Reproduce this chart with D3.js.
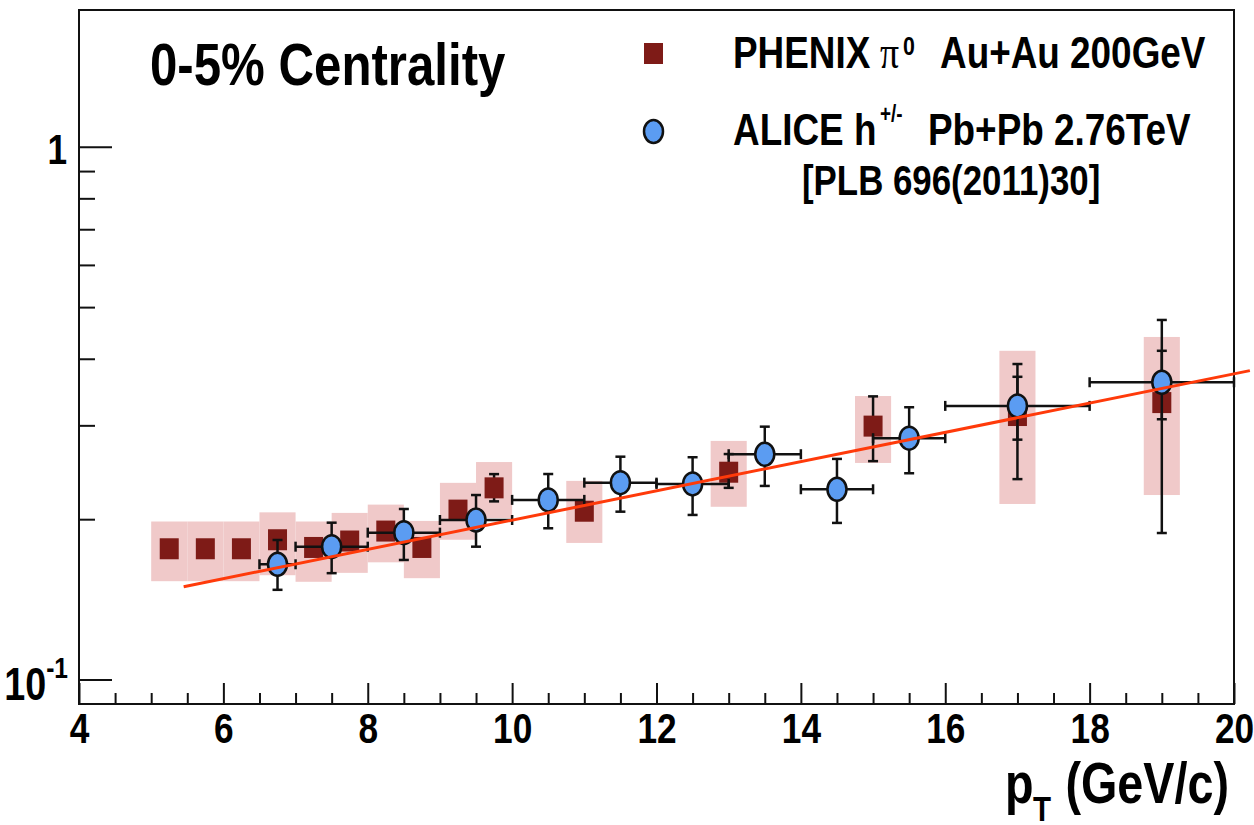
<!DOCTYPE html>
<html>
<head>
<meta charset="utf-8">
<script src="https://cdn.jsdelivr.net/npm/d3@7"></script>
<style>
body { margin:0; background:#fff; }
text { font-family:"Liberation Sans",Arial,sans-serif; font-weight:bold; fill:#000; white-space:pre; }
</style>
</head>
<body>
<div id="chart"></div>
<script>
// PHENIX pi0 Au+Au 200 GeV, 0-5%
var phenixPt = [5.25, 5.75, 6.25, 6.75, 7.25, 7.75, 8.25, 8.75, 9.25, 9.75, 11, 13, 15, 17, 19]
var phenixRaa = [0.176, 0.176, 0.176, 0.183, 0.177, 0.182, 0.190, 0.177, 0.208, 0.229, 0.207, 0.245, 0.299, 0.313, 0.331]
var phenixStatHi = [0.180, 0.180, 0.180, 0.187, 0.181, 0.186, 0.194, 0.181, 0.213, 0.243, 0.212, 0.265, 0.340, 0.370, 0.414]
var phenixStatLo = [0.172, 0.172, 0.172, 0.179, 0.173, 0.178, 0.186, 0.173, 0.203, 0.216, 0.202, 0.229, 0.257, 0.282, 0.308]
var phenixSysHi = [0.198, 0.198, 0.198, 0.206, 0.198, 0.2055, 0.213, 0.1985, 0.234, 0.256, 0.236, 0.2805, 0.3405, 0.414, 0.4395]
var phenixSysLo = [0.153, 0.153, 0.153, 0.157, 0.1526, 0.1586, 0.166, 0.155, 0.183, 0.201, 0.1805, 0.211, 0.255, 0.2136, 0.222]
var sysHalfWidth = 0.25

// ALICE h+/- Pb+Pb 2.76 TeV
var alicePt = [6.75, 7.5, 8.5, 9.5, 10.5, 11.5, 12.5, 13.5, 14.5, 15.5, 17, 19]
var alicePtLo = [6.5, 7, 8, 9, 10, 11, 12, 13, 14, 15, 16, 18]
var alicePtHi = [7, 8, 9, 10, 11, 12, 13, 14, 15, 16, 18, 20]
var aliceRaa = [0.1646, 0.1776, 0.1887, 0.1993, 0.2174, 0.2342, 0.2329, 0.2648, 0.2276, 0.2838, 0.3263, 0.3614]
var aliceHi = [0.1828, 0.197, 0.209, 0.222, 0.2431, 0.262, 0.2614, 0.2983, 0.2595, 0.3244, 0.391, 0.473]
var aliceLo = [0.1474, 0.1584, 0.1677, 0.1776, 0.1923, 0.2066, 0.2037, 0.2309, 0.1968, 0.2439, 0.2378, 0.1884]

// fit line end points
var fitPt = [5.45, 20.22]
var fitRaa = [0.1494, 0.380]

// axis ticks
var xMajor = [4, 6, 8, 10, 12, 14, 16, 18, 20]
var xMinor = d3.range(4.5, 20, 0.5).filter(function(d){ return d % 2 != 0 })
var yMajor = [0.1, 1]
var yMinor = [0.2, 0.3, 0.4, 0.5, 0.6, 0.7, 0.8, 0.9]

var width = 1254
var height = 825
var frameL = 79, frameR = 1234, frameT = 10, frameB = 704
var narrow = 0.82   // squeeze Liberation Sans Bold to look like Helvetica Narrow

var svg = d3.select("#chart").append("svg")
    .attr("width", width)
    .attr("height", height)

var x = d3.scaleLinear().domain([4, 20]).range([frameL, frameR])
var y = d3.scaleLog().domain([0.09, 1.805]).range([frameB, frameT])

function label(px, py, size, anchor) {
    return svg.append("text")
        .attr("transform", "translate(" + px + "," + py + ") scale(" + narrow + ",1)")
        .attr("text-anchor", anchor || "start")
        .style("font-size", size + "px")
}

// systematic boxes
svg.append("g").selectAll("rect")
    .data(phenixPt)
    .enter().append("rect")
    .attr("x", function(d){ return x(d - sysHalfWidth) })
    .attr("width", function(d){ return x(d + sysHalfWidth) - x(d - sysHalfWidth) })
    .attr("y", function(d, i){ return y(phenixSysHi[i]) })
    .attr("height", function(d, i){ return y(phenixSysLo[i]) - y(phenixSysHi[i]) })
    .style("fill", "#f0c9c9")

// frame
svg.append("rect")
    .attr("x", frameL).attr("y", frameT)
    .attr("width", frameR - frameL).attr("height", frameB - frameT)
    .attr("fill", "none").attr("stroke", "#111").attr("stroke-width", 2)

// x axis ticks
var xAxis = svg.append("g").attr("transform", "translate(0," + frameB + ")")
xAxis.call(d3.axisBottom(x).tickValues(xMajor).tickSize(-21).tickFormat(d3.format("d")))
xAxis.append("g").call(d3.axisBottom(x).tickValues(xMinor).tickSize(-11).tickFormat(""))
xAxis.selectAll(".domain").remove()
xAxis.attr("font-family", null).attr("font-size", null)
xAxis.selectAll("line").attr("stroke", "#111").attr("stroke-width", 2)
xAxis.selectAll(".tick text")
    .attr("y", 39).attr("dy", 0)
    .attr("transform", "scale(" + narrow + ",1)")
    .style("font-size", "43px")

// y axis ticks
var yAxis = svg.append("g").attr("transform", "translate(" + frameL + ",0)")
yAxis.call(d3.axisLeft(y).tickValues(yMajor).tickSize(-33).tickFormat(""))
yAxis.append("g").call(d3.axisLeft(y).tickValues(yMinor).tickSize(-16).tickFormat(""))
yAxis.selectAll(".domain").remove()
yAxis.selectAll("line").attr("stroke", "#111").attr("stroke-width", 2)

label(67, y(1) + 17, 43, "end").text("1")
var tenth = label(68, y(0.1) + 20, 46, "end")
tenth.append("tspan").text("10")
tenth.append("tspan").attr("dy", -22).style("font-size", "30px").text("-1")

// axis title
label(1005, 803, 57).text("p")
label(1033, 821, 36).text("T")
label(1229, 803, 57, "end").text("(GeV/c)")

// error bar helpers
function vBar(g, px, hi, lo) {
    g.append("line").attr("x1", x(px)).attr("x2", x(px)).attr("y1", y(hi)).attr("y2", y(lo))
    g.append("line").attr("x1", x(px) - 5).attr("x2", x(px) + 5).attr("y1", y(hi)).attr("y2", y(hi))
    g.append("line").attr("x1", x(px) - 5).attr("x2", x(px) + 5).attr("y1", y(lo)).attr("y2", y(lo))
}
function hBar(g, py, x0, x1) {
    g.append("line").attr("x1", x(x0)).attr("x2", x(x1)).attr("y1", y(py)).attr("y2", y(py))
    g.append("line").attr("x1", x(x0)).attr("x2", x(x0)).attr("y1", y(py) - 5).attr("y2", y(py) + 5)
    g.append("line").attr("x1", x(x1)).attr("x2", x(x1)).attr("y1", y(py) - 5).attr("y2", y(py) + 5)
}

// PHENIX stat errors and markers
var phenixErr = svg.append("g").attr("stroke", "#111").attr("stroke-width", 2.5)
phenixPt.forEach(function(d, i){ vBar(phenixErr, d, phenixStatHi[i], phenixStatLo[i]) })

svg.append("g").selectAll("rect")
    .data(phenixPt)
    .enter().append("rect")
    .attr("x", function(d){ return x(d) - 9.5 })
    .attr("y", function(d, i){ return y(phenixRaa[i]) - 10.5 })
    .attr("width", 19)
    .attr("height", 21)
    .style("fill", "#7e1b17")

// ALICE errors and markers
var aliceErr = svg.append("g").attr("stroke", "#111").attr("stroke-width", 2.5)
alicePt.forEach(function(d, i){
    vBar(aliceErr, d, aliceHi[i], aliceLo[i])
    hBar(aliceErr, aliceRaa[i], alicePtLo[i], alicePtHi[i])
})

svg.append("g").selectAll("ellipse")
    .data(alicePt)
    .enter().append("ellipse")
    .attr("cx", function(d){ return x(d) })
    .attr("cy", function(d, i){ return y(aliceRaa[i]) })
    .attr("rx", 9.5)
    .attr("ry", 11.5)
    .style("fill", "#5b9cf2")
    .style("stroke", "#111")
    .style("stroke-width", 2.5)

// fit line
svg.append("path")
    .datum(fitPt)
    .attr("d", d3.line().x(function(d){ return x(d) }).y(function(d, i){ return y(fitRaa[i]) }))
    .style("fill", "none")
    .style("stroke", "#ff3a0a")
    .style("stroke-width", 3)

// title
label(150, 85, 60).text("0-5% Centrality")

// legend
svg.append("rect")
    .attr("x", 644).attr("y", 43)
    .attr("width", 19).attr("height", 21)
    .style("fill", "#7e1b17")
svg.append("ellipse")
    .attr("cx", 653.5).attr("cy", 131.5)
    .attr("rx", 9.5).attr("ry", 11.5)
    .style("fill", "#5b9cf2")
    .style("stroke", "#111")
    .style("stroke-width", 2.5)

label(733, 68, 45).text("PHENIX")
label(880, 68, 46).style("font-family", "'Liberation Serif','DejaVu Serif',serif").style("font-weight", "normal").text("π")
label(903, 55, 26).text("0")
label(940, 68, 45).text("Au+Au 200GeV")

label(733, 145, 45).text("ALICE h")
label(880, 122, 23).text("+/-")
label(928, 145, 45).text("Pb+Pb 2.76TeV")

label(802, 195, 42.5).text("[PLB 696(2011)30]")
</script>
</body>
</html>
